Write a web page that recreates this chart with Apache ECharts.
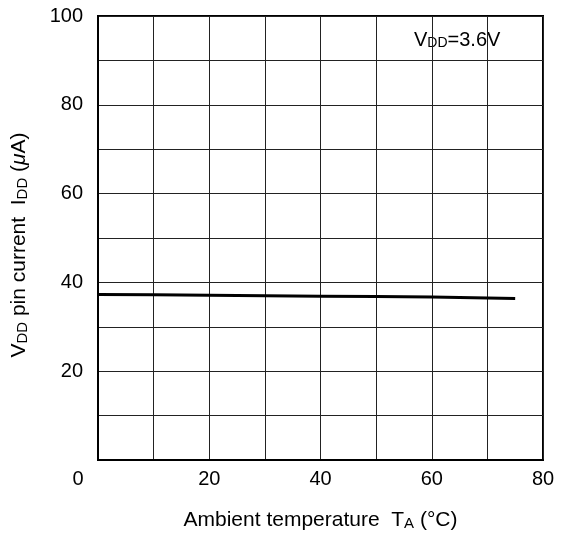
<!DOCTYPE html>
<html>
<head>
<meta charset="utf-8">
<script src="https://cdn.jsdelivr.net/npm/echarts@6/dist/echarts.min.js"></script>
<style>html,body{margin:0;padding:0;background:#fff}#c{width:565px;height:536px}</style>
</head>
<body>
<div id="c"></div>
<script>
const temperatures = [0, 10, 20, 30, 40, 50, 60, 70, 75];
const currentIDD = [37.3, 37.2, 37.1, 37.0, 36.9, 36.8, 36.7, 36.5, 36.4];
const xTicks = [0, 20, 40, 60, 80];
const yTicks = [0, 20, 40, 60, 80, 100];

const FONT = 'Liberation Sans, Arial, sans-serif';
const TF = 20;   // tick font
const NF = 21;   // name font
const SF = 15;   // subscript font
const chart = echarts.init(document.getElementById('c'), null, {renderer: 'canvas'});
chart.setOption({
  animation: false,
  backgroundColor: '#fff',
  grid: {left: 98, right: 22, top: 16, bottom: 74, show: true, borderColor: '#000', borderWidth: 2, backgroundColor: 'transparent'},
  xAxis: {
    type: 'value', min: 0, max: 80, interval: 10,
    axisLine: {show: true, lineStyle: {color: '#000', width: 2}},
    axisTick: {show: false},
    splitLine: {show: true, lineStyle: {color: '#222', width: 1}},
    axisLabel: {
      color: '#000', fontSize: TF, fontFamily: FONT, margin: 9,
      formatter: function (v) {
        if (xTicks.indexOf(v) < 0) return '';
        if (v === 0) return '{o|0}';
        return String(v);
      },
      rich: {o: {fontSize: TF, fontFamily: FONT, color: '#000', padding: [0, 40, 0, 0]}}
    },
    name: '{a|Ambient temperature  T}{s|A}{a| (°C)}',
    nameLocation: 'middle', nameGap: 46,
    nameTextStyle: {
      rich: {
        a: {fontSize: NF, fontFamily: FONT, color: '#000', lineHeight: 25, verticalAlign: 'bottom'},
        s: {fontSize: SF, fontFamily: FONT, color: '#000', lineHeight: 19, verticalAlign: 'bottom'}
      }
    }
  },
  yAxis: {
    type: 'value', min: 0, max: 100, interval: 10,
    axisLine: {show: true, lineStyle: {color: '#000', width: 2}},
    axisTick: {show: false},
    splitLine: {show: true, lineStyle: {color: '#222', width: 1}},
    axisLabel: {
      color: '#000', fontSize: TF, fontFamily: FONT, margin: 15,
      formatter: function (v) { return (v !== 0 && yTicks.indexOf(v) >= 0) ? String(v) : ''; }
    },
    name: '{a|V}{s|DD}{a| pin current  I}{s|DD}{a| (}{m|μ}{a|A)}',
    nameLocation: 'middle', nameGap: 68,
    nameTextStyle: {
      padding: [0, 14, 0, 0],
      rich: {
        a: {fontSize: NF, fontFamily: FONT, color: '#000', lineHeight: 25, verticalAlign: 'bottom'},
        s: {fontSize: SF, fontFamily: FONT, color: '#000', lineHeight: 19, verticalAlign: 'bottom'},
        m: {fontSize: NF, fontFamily: FONT, color: '#000', fontStyle: 'italic', lineHeight: 25, verticalAlign: 'bottom'}
      }
    }
  },
  graphic: [{
    type: 'text', left: 414, top: 30,
    style: {
      text: '{a|V}{s|DD}{a|=3.6V}',
      rich: {
        a: {fontSize: 20, fontFamily: FONT, fill: '#000', lineHeight: 24, verticalAlign: 'bottom'},
        s: {fontSize: 14, fontFamily: FONT, fill: '#000', lineHeight: 18, verticalAlign: 'bottom'}
      }
    }
  }],
  series: [{
    type: 'line', data: temperatures.map((t, i) => [t, currentIDD[i]]),
    showSymbol: false, symbol: 'none',
    lineStyle: {color: '#000', width: 3}
  }]
});
</script>
</body>
</html>
